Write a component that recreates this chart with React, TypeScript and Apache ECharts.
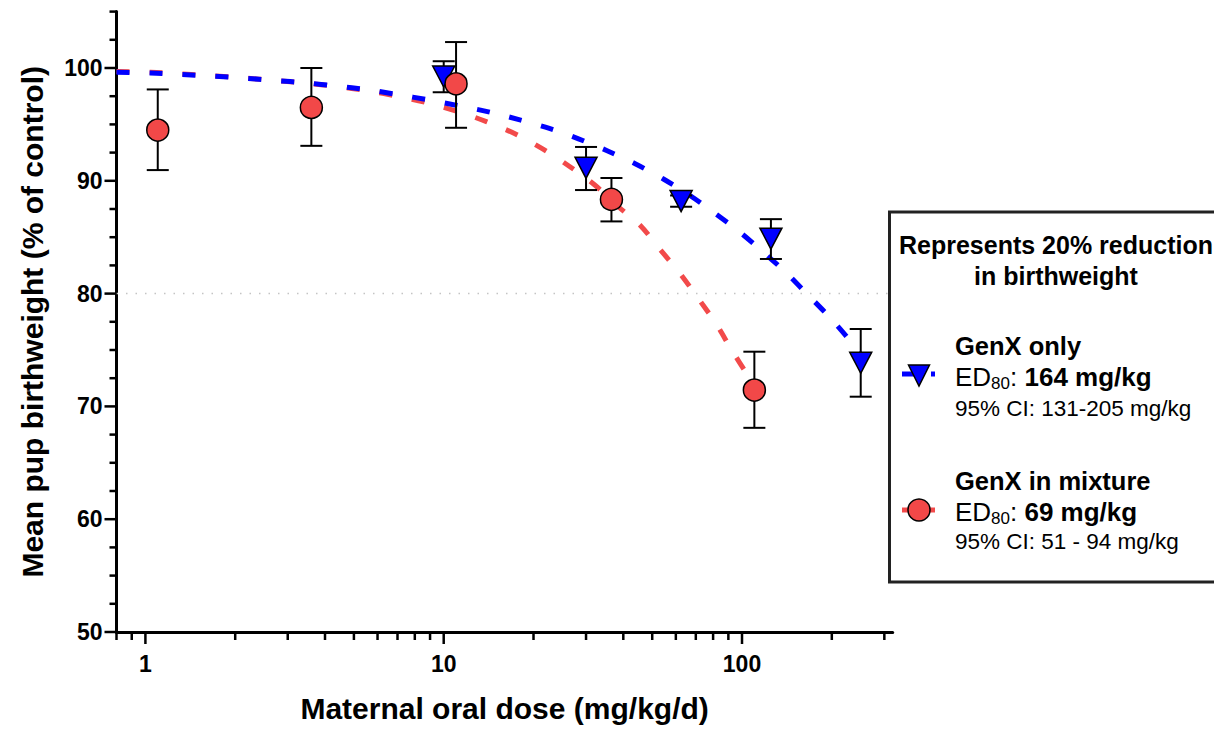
import React, { useEffect, useRef } from 'react';
import * as echarts from 'echarts';

const FONT = "'Liberation Sans', Arial, Helvetica, sans-serif";

// ---- Data ----
const genxDose = [10, 30, 62.5, 125, 250];
const genxMean = [99.25, 91.15, 88.2, 84.87, 73.87];
const genxLow = [97.85, 89.18, 87.7, 83.07, 70.86];
const genxHigh = [100.6, 93.0, 88.7, 86.6, 76.86];

const mixDose = [1.1, 3.6, 11, 36.5, 110];
const mixMean = [94.5, 96.5, 98.6, 88.35, 71.45];
const mixLow = [90.95, 93.1, 94.7, 86.4, 68.1];
const mixHigh = [98.1, 100.0, 102.3, 90.25, 74.85];

const genxFitDose = [0.8, 1.04, 1.32, 1.67, 2.14, 2.7, 3.46, 4.36, 5.55, 7.0, 8.84, 11.1, 14.3, 18.0, 22.6, 28.3, 35.3, 44.0, 54.5, 67.3, 81.1, 97.9, 117.4, 140.7, 166.4, 196.8, 231.6, 250];
const genxFitResp = [99.62, 99.55, 99.42, 99.28, 99.1, 98.9, 98.68, 98.4, 98.07, 97.65, 97.18, 96.68, 96.08, 95.4, 94.65, 93.72, 92.67, 91.49, 90.16, 88.65, 87.12, 85.49, 83.71, 81.85, 79.88, 77.9, 75.74, 74.6];

const mixFitDose = [0.8, 1.04, 1.32, 1.67, 2.14, 2.7, 3.46, 4.36, 5.55, 7.0, 8.84, 11.2, 13.9, 17.4, 21.6, 26.5, 32.1, 38.5, 45.7, 53.0, 61.9, 71.3, 81.7, 92.3, 104.4, 110];
const mixFitResp = [99.7, 99.62, 99.48, 99.32, 99.12, 98.9, 98.66, 98.36, 97.98, 97.5, 96.9, 96.13, 95.24, 94.15, 92.79, 91.25, 89.63, 87.7, 86.02, 83.95, 81.8, 79.58, 77.37, 75.0, 72.78, 71.8];

const refLevel = 80;
const xRange = [0.8, 320];
const yRange = [50, 105];
const xLabelValues = [1, 10, 100];
const xMinorTickValues = [0.8, 0.9, 2, 3, 4, 5, 6, 7, 8, 9, 20, 30, 40, 50, 60, 70, 80, 90, 200, 300];
const yMajorTickValues = [50, 60, 70, 80, 90, 100];
const yMinorTickValues = [52.5, 55, 57.5, 62.5, 65, 67.5, 72.5, 75, 77.5, 82.5, 85, 87.5, 92.5, 95, 97.5, 102.5, 105];

const xTitle = 'Maternal oral dose (mg/kg/d)';
const yTitle = 'Mean pup birthweight (% of control)';
const boxTitle = ['Represents 20% reduction', 'in birthweight'];
const genxName = 'GenX only';
const genxED = '164 mg/kg';
const genxCI = '95% CI: 131-205 mg/kg';
const mixName = 'GenX in mixture';
const mixED = '69 mg/kg';
const mixCI = '95% CI: 51 - 94 mg/kg';

const BLUE = '#0000FF';
const RED = '#F24848';
const RED_LINE = '#F24A4A';

function tickSeries(values: number[], axis: 'x' | 'y', len: number) {
  return {
    type: 'custom',
    silent: true,
    clip: false,
    z: 6,
    data: values.map((v) => (axis === 'x' ? [v, yRange[0]] : [xRange[0], v])),
    renderItem: (_p: any, api: any) => {
      const p = api.coord([api.value(0), api.value(1)]);
      const shape =
        axis === 'x'
          ? { x1: p[0], y1: p[1], x2: p[0], y2: p[1] + len }
          : { x1: p[0] - len, y1: p[1], x2: p[0], y2: p[1] };
      return { type: 'line', shape, style: { stroke: '#000', lineWidth: 2.5 } };
    },
  };
}

function errSeries(dose: number[], low: number[], high: number[]) {
  return {
    type: 'custom',
    silent: true,
    clip: false,
    z: 3,
    data: dose.map((d, i) => [d, low[i], high[i]]),
    encode: { x: 0, y: [1, 2] },
    renderItem: (_p: any, api: any) => {
      const x = api.value(0);
      const a = api.coord([x, api.value(1)]);
      const b = api.coord([x, api.value(2)]);
      const hw = 11;
      const st = { stroke: '#000', lineWidth: 2 };
      return {
        type: 'group',
        children: [
          { type: 'line', shape: { x1: a[0], y1: a[1], x2: b[0], y2: b[1] }, style: st },
          { type: 'line', shape: { x1: a[0] - hw, y1: a[1], x2: a[0] + hw, y2: a[1] }, style: st },
          { type: 'line', shape: { x1: b[0] - hw, y1: b[1], x2: b[0] + hw, y2: b[1] }, style: st },
        ],
      };
    },
  };
}

function edRich(value: string) {
  return {
    text: `{n|ED}{s|80}{n|: }{b|${value}}`,
    rich: {
      n: { fontSize: 26, fontFamily: FONT, lineHeight: 30, fill: '#000' },
      s: { fontSize: 17, fontFamily: FONT, lineHeight: 11, verticalAlign: 'bottom', fill: '#000' },
      b: { fontSize: 26, fontFamily: FONT, fontWeight: 'bold', lineHeight: 30, fill: '#000' },
    },
  };
}

export default function App() {
  const ref = useRef<HTMLDivElement>(null);

  useEffect(() => {
    if (!ref.current) return;
    const chart = echarts.init(ref.current, null, { renderer: 'svg' });

    const tx = 955;
    const headStyle = { fontSize: 25.5, fontWeight: 'bold', fontFamily: FONT, fill: '#000', align: 'left', verticalAlign: 'middle' };
    const ciStyle = { fontSize: 22.5, fontFamily: FONT, fill: '#000', align: 'left', verticalAlign: 'middle' };
    const titleStyle = { fontSize: 25, fontWeight: 'bold', fontFamily: FONT, fill: '#000', align: 'center', verticalAlign: 'middle' };

    const option: any = {
      animation: false,
      backgroundColor: '#fff',
      grid: { left: 116.5, right: 321.3, top: 11.6, bottom: 102, containLabel: false },
      xAxis: {
        type: 'log',
        logBase: 10,
        min: xRange[0],
        max: xRange[1],
        name: xTitle,
        nameLocation: 'middle',
        nameGap: 61,
        nameTextStyle: { fontSize: 30, fontWeight: 'bold', fontFamily: FONT, color: '#000' },
        axisLine: { show: true, onZero: false, lineStyle: { color: '#000', width: 3 } },
        axisTick: { show: false },
        splitLine: { show: false },
        minorTick: { show: false },
        axisLabel: {
          interval: 0,
          margin: 20,
          fontSize: 23,
          fontWeight: 'bold',
          fontFamily: FONT,
          color: '#000',
          formatter: (v: number) => {
            const hit = xLabelValues.find((t) => Math.abs(v - t) / t < 1e-6);
            return hit !== undefined ? String(hit) : '';
          },
        },
      },
      yAxis: {
        type: 'value',
        min: yRange[0],
        max: yRange[1],
        interval: 10,
        name: yTitle,
        nameLocation: 'middle',
        nameGap: 69,
        nameTextStyle: { fontSize: 30, fontWeight: 'bold', fontFamily: FONT, color: '#000' },
        axisLine: { show: true, onZero: false, lineStyle: { color: '#000', width: 3 } },
        axisTick: { show: false },
        splitLine: { show: false },
        axisLabel: {
          margin: 14,
          fontSize: 23,
          fontWeight: 'bold',
          fontFamily: FONT,
          color: '#000',
          showMaxLabel: false,
          formatter: (v: number) => (yMajorTickValues.includes(v) ? String(v) : ''),
        },
      },
      series: [
        {
          type: 'line',
          data: [
            [xRange[0], refLevel],
            [xRange[1], refLevel],
          ],
          symbol: 'none',
          silent: true,
          z: 1,
          lineStyle: { color: '#c4c4c4', width: 1.5, type: [1.5, 8] },
        },
        {
          type: 'line',
          name: mixName,
          data: mixFitDose.map((d, i) => [d, mixFitResp[i]]),
          symbol: 'none',
          smooth: 0.3,
          z: 2,
          lineStyle: { color: RED_LINE, width: 5, type: [13, 20] },
        },
        {
          type: 'line',
          name: genxName,
          data: genxFitDose.map((d, i) => [d, genxFitResp[i]]),
          symbol: 'none',
          smooth: 0.3,
          z: 2,
          lineStyle: { color: BLUE, width: 5, type: [13, 20] },
        },
        errSeries(genxDose, genxLow, genxHigh),
        errSeries(mixDose, mixLow, mixHigh),
        {
          type: 'scatter',
          data: genxDose.map((d, i) => [d, genxMean[i]]),
          symbol: 'triangle',
          symbolRotate: 180,
          symbolSize: [22, 21],
          z: 4,
          itemStyle: { color: BLUE, borderColor: '#000', borderWidth: 1.5, opacity: 1 },
        },
        {
          type: 'scatter',
          data: mixDose.map((d, i) => [d, mixMean[i]]),
          symbol: 'circle',
          symbolSize: 22,
          z: 5,
          itemStyle: { color: RED, borderColor: '#000', borderWidth: 1.5, opacity: 1 },
        },
        tickSeries(xLabelValues, 'x', 12),
        tickSeries(xMinorTickValues, 'x', 8),
        tickSeries(yMajorTickValues, 'y', 12),
        tickSeries(yMinorTickValues, 'y', 7),
      ],
      graphic: [
        {
          type: 'rect',
          z: 10,
          shape: { x: 889.5, y: 212, width: 340, height: 370 },
          style: { fill: '#fff', stroke: '#222', lineWidth: 3 },
        },
        { type: 'text', z: 11, x: 1056, y: 245, style: { text: boxTitle[0], ...titleStyle } },
        { type: 'text', z: 11, x: 1056, y: 276, style: { text: boxTitle[1], ...titleStyle } },
        // GenX only entry
        { type: 'line', z: 11, shape: { x1: 902, y1: 374, x2: 916, y2: 374 }, style: { stroke: BLUE, lineWidth: 5 } },
        { type: 'line', z: 11, shape: { x1: 931, y1: 374, x2: 935, y2: 374 }, style: { stroke: BLUE, lineWidth: 5 } },
        {
          type: 'polygon', z: 12,
          shape: { points: [[908.5, 365], [929.5, 365], [919, 386]] },
          style: { fill: BLUE, stroke: '#000', lineWidth: 1.5 },
        },
        { type: 'text', z: 11, x: tx, y: 346, style: { text: genxName, ...headStyle } },
        { type: 'text', z: 11, x: tx, y: 377, style: { ...edRich(genxED), align: 'left', verticalAlign: 'middle' } },
        { type: 'text', z: 11, x: tx, y: 408, style: { text: genxCI, ...ciStyle } },
        // GenX in mixture entry
        { type: 'line', z: 11, shape: { x1: 902, y1: 510, x2: 912, y2: 510 }, style: { stroke: RED_LINE, lineWidth: 5 } },
        { type: 'line', z: 11, shape: { x1: 926, y1: 510, x2: 935, y2: 510 }, style: { stroke: RED_LINE, lineWidth: 5 } },
        {
          type: 'circle', z: 12,
          shape: { cx: 919, cy: 510, r: 11 },
          style: { fill: RED, stroke: '#000', lineWidth: 1.5 },
        },
        { type: 'text', z: 11, x: tx, y: 481, style: { text: mixName, ...headStyle } },
        { type: 'text', z: 11, x: tx, y: 512, style: { ...edRich(mixED), align: 'left', verticalAlign: 'middle' } },
        { type: 'text', z: 11, x: tx, y: 541, style: { text: mixCI, ...ciStyle } },
      ],
    };

    chart.setOption(option);
    return () => chart.dispose();
  }, []);

  return (
    <div
      ref={ref}
      style={{ position: 'absolute', left: 0, top: 0, width: 1214, height: 734, background: '#fff' }}
    />
  );
}
